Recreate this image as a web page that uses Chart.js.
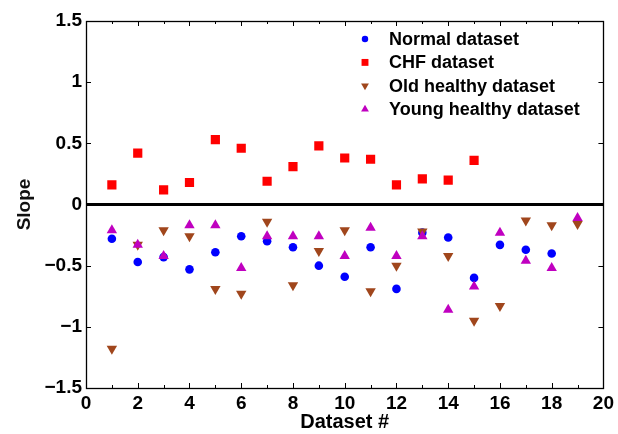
<!DOCTYPE html>
<html>
<head>
<meta charset="utf-8">
<script src="https://cdn.jsdelivr.net/npm/chart.js@4.4.1/dist/chart.umd.min.js"></script>
<style>
  html, body { margin: 0; padding: 0; background: #fff; }
  #wrap { width: 618px; height: 434px; }
</style>
</head>
<body>
<div id="wrap"><canvas id="slopeChart" width="618" height="434"></canvas></div>
<script>
// dataset number on the x axis
const datasetNo = [1, 2, 3, 4, 5, 6, 7, 8, 9, 10, 11, 12, 13, 14, 15, 16, 17, 18, 19];

// slope per dataset, one array per group (null = no recording)
const normalSlope = [-0.28, -0.47, -0.43, -0.53, -0.39, -0.26, -0.30, -0.35, -0.50, -0.59,
                     -0.35, -0.69, -0.23, -0.27, -0.60, -0.33, -0.37, -0.40, null];
const chfSlope = [0.16, 0.42, 0.12, 0.18, 0.53, 0.46, 0.19, 0.31, 0.48, 0.38,
                  0.37, 0.16, 0.21, 0.20, 0.36];
const oldHealthySlope = [-1.18, -0.33, -0.21, -0.26, -0.69, -0.73, -0.14, -0.66, -0.38, -0.21,
                         -0.71, -0.50, -0.22, -0.42, -0.95, -0.83, -0.13, -0.17, -0.16];
const youngHealthySlope = [-0.21, -0.33, -0.42, -0.17, -0.17, -0.52, -0.26, -0.26, -0.26, -0.42,
                           -0.19, -0.42, -0.26, -0.86, -0.67, -0.23, -0.46, -0.52, -0.11];

const xTicks = [0, 2, 4, 6, 8, 10, 12, 14, 16, 18, 20];
const yTicks = [-1.5, -1, -0.5, 0, 0.5, 1, 1.5];
const zeroLine = [0, 20];

const FONT = '"Liberation Sans", Arial, sans-serif';

function toPoints(ys) {
  return ys.map((y, i) => ({ x: datasetNo[i], y })).filter(p => p.y !== null);
}

function fmt(v) {
  return v < 0 ? '\u2212' + String(-v) : String(v);
}

// MATLAB-like box: frame plus inward tick marks on all four sides
const boxTicks = {
  id: 'boxTicks',
  afterDraw(chart) {
    const { ctx, chartArea: a, scales } = chart;
    const xs = scales.x, ys = scales.y;
    ctx.save();
    ctx.strokeStyle = '#000';
    ctx.lineWidth = 1;
    ctx.beginPath();
    for (let v = 1; v < 20; v++) {
      const px = Math.round(xs.getPixelForValue(v)) + 0.5;
      const len = v % 2 === 0 ? 5 : 3;
      ctx.moveTo(px, a.bottom); ctx.lineTo(px, a.bottom - len);
      ctx.moveTo(px, a.top); ctx.lineTo(px, a.top + len);
    }
    yTicks.forEach(v => {
      const py = Math.round(ys.getPixelForValue(v)) + 0.5;
      ctx.moveTo(a.left, py); ctx.lineTo(a.left + 5, py);
      ctx.moveTo(a.right, py); ctx.lineTo(a.right - 5, py);
    });
    ctx.stroke();
    ctx.lineWidth = 1.3;
    ctx.strokeRect(Math.round(a.left) + 0.5, Math.round(a.top) + 0.5,
                   Math.round(a.right - a.left), Math.round(a.bottom - a.top));
    ctx.restore();
  }
};

// legend sitting inside the axes, no border
const insideLegend = {
  id: 'insideLegend',
  afterDraw(chart, args, opts) {
    const ctx = chart.ctx;
    ctx.save();
    ctx.font = opts.font;
    ctx.textBaseline = 'middle';
    let row = 0;
    chart.data.datasets.forEach(ds => {
      if (!ds.label) return;
      const y = opts.top + row * opts.rowGap;
      ctx.fillStyle = ds.backgroundColor;
      Chart.helpers.drawPoint(ctx, {
        pointStyle: ds.pointStyle,
        rotation: ds.rotation || 0,
        radius: ds.pointRadius * opts.markerScale,
        borderWidth: 0
      }, opts.markerX, y);
      ctx.fillStyle = '#000';
      ctx.fillText(ds.label, opts.textX, y + 1);
      row++;
    });
    ctx.restore();
  }
};

new Chart(document.getElementById('slopeChart').getContext('2d'), {
  type: 'scatter',
  data: {
    datasets: [
      {
        label: 'Normal dataset',
        data: toPoints(normalSlope),
        pointStyle: 'circle',
        pointRadius: 4.3,
        backgroundColor: '#0000ff',
        borderWidth: 0,
        order: 4
      },
      {
        label: 'CHF dataset',
        data: toPoints(chfSlope),
        pointStyle: 'rect',
        pointRadius: 6.5,
        backgroundColor: '#ff0000',
        borderWidth: 0,
        order: 3
      },
      {
        label: 'Old healthy dataset',
        data: toPoints(oldHealthySlope),
        pointStyle: 'triangle',
        rotation: 180,
        pointRotation: 180,
        pointRadius: 6,
        backgroundColor: '#a0461c',
        borderWidth: 0,
        order: 2
      },
      {
        label: 'Young healthy dataset',
        data: toPoints(youngHealthySlope),
        pointStyle: 'triangle',
        pointRadius: 6,
        backgroundColor: '#c000c0',
        borderWidth: 0,
        order: 1
      },
      {
        data: zeroLine.map(x => ({ x, y: 0 })),
        showLine: true,
        borderColor: '#000',
        borderWidth: 3,
        pointRadius: 0,
        order: 5
      }
    ]
  },
  options: {
    responsive: false,
    animation: false,
    devicePixelRatio: 1,
    layout: { padding: { left: 0, top: 21, right: 14, bottom: 0 } },
    plugins: {
      legend: { display: false },
      tooltip: { enabled: false },
      insideLegend: {
        font: 'bold 18px ' + FONT,
        markerX: 365,
        textX: 389,
        top: 39,
        rowGap: 23.4,
        markerScale: 0.75
      }
    },
    scales: {
      x: {
        type: 'linear',
        min: 0,
        max: 20,
        afterBuildTicks: s => { s.ticks = xTicks.map(v => ({ value: v })); },
        afterFit: s => { s.height = 46; },
        grid: { display: false, drawTicks: false },
        border: { display: false },
        ticks: {
          color: '#000',
          padding: 4,
          maxRotation: 0,
          font: { family: FONT, size: 19, weight: 'bold' },
          callback: v => fmt(v)
        },
        title: {
          display: true,
          text: 'Dataset #',
          color: '#000',
          padding: { top: -7, bottom: 0 },
          font: { family: FONT, size: 20, weight: 'bold' }
        }
      },
      y: {
        type: 'linear',
        min: -1.5,
        max: 1.5,
        afterBuildTicks: s => { s.ticks = yTicks.map(v => ({ value: v })); },
        afterFit: s => { s.width = 86; },
        grid: { display: false, drawTicks: false },
        border: { display: false },
        ticks: {
          color: '#000',
          padding: 4,
          font: { family: FONT, size: 19, weight: 'bold' },
          callback: v => fmt(v)
        },
        title: {
          display: true,
          text: 'Slope',
          color: '#111',
          padding: { top: 13, bottom: 0 },
          font: { family: FONT, size: 19, weight: 'bold' }
        }
      }
    }
  },
  plugins: [boxTicks, insideLegend]
});
</script>
</body>
</html>
